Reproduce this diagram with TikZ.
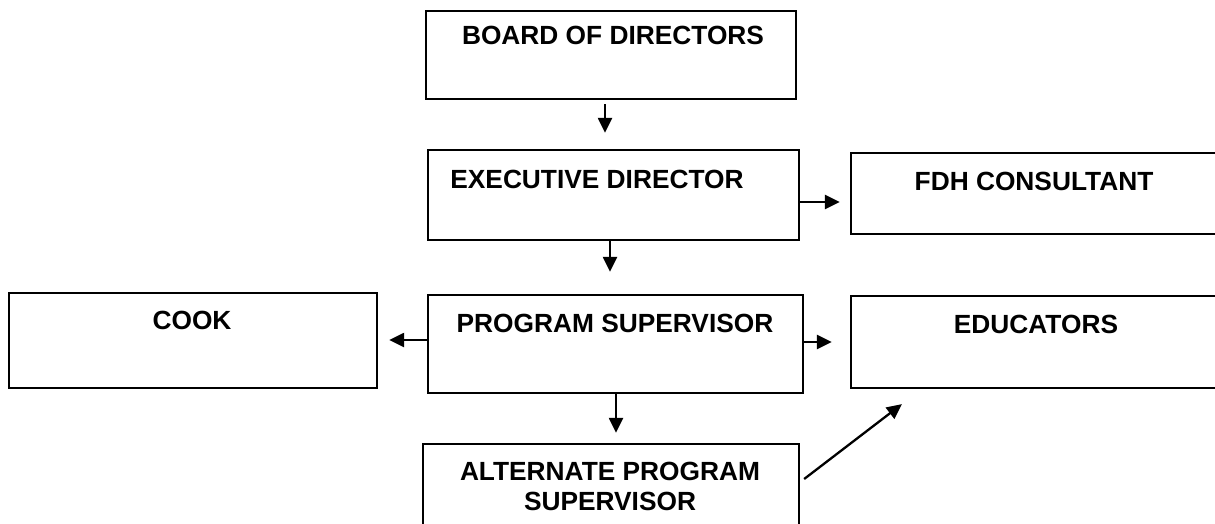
\documentclass[tikz,border=0pt]{standalone}
\usepackage{fontspec}
\setmainfont{Liberation Sans}
\usetikzlibrary{arrows.meta}
\begin{document}
\begin{tikzpicture}[x=1pt,y=-1pt,
  box/.style={draw=black, line width=2.3pt, inner sep=0pt, rectangle},
  lbl/.style={anchor=base, inner sep=0pt, font=\fontsize{26.3}{30}\selectfont\bfseries, align=center},
  arr/.style={line width=2.3pt, -{Triangle[length=15pt,width=14pt]}}]
\useasboundingbox (0,0) rectangle (1215,524);
\clip (0,0) rectangle (1215,524);
% boxes
\node[box, minimum width=370pt, minimum height=88pt] (board) at (611,55) {};
\node[box, minimum width=371pt, minimum height=90pt] (exec) at (613.5,195) {};
\node[box, minimum width=379pt, minimum height=81pt] (fdh) at (1040.5,193.5) {};
\node[box, minimum width=368pt, minimum height=95pt] (cook) at (193,340.5) {};
\node[box, minimum width=375pt, minimum height=98pt] (ps) at (615.5,344) {};
\node[box, minimum width=379pt, minimum height=92pt] (edu) at (1040.5,342) {};
\node[box, minimum width=376pt, minimum height=96pt] (alt) at (611,492) {};
% labels
\node[lbl] (boardt) at (613,45) {BOARD OF DIRECTORS};
\node[lbl] (exect) at (597,188) {EXECUTIVE DIRECTOR};
\node[lbl] (fdht) at (1034,190) {FDH CONSULTANT};
\node[lbl] (cookt) at (192,329) {COOK};
\node[lbl] (pst) at (615,332) {PROGRAM SUPERVISOR};
\node[lbl] (edut) at (1036,333) {EDUCATORS};
\node[lbl] (altt1) at (610,480) {ALTERNATE PROGRAM};
\node[lbl] (altt2) at (610,510) {SUPERVISOR};
% connectors
\draw[arr, shorten <=4pt, shorten >=16pt] ([xshift=-6pt]board.south) -- ([xshift=-6pt]board.south |- exec.north);
\draw[arr, shorten >=10pt] ([yshift=-7pt]exec.east) -- ([yshift=-7pt]exec.east -| fdh.west);
\draw[arr, shorten >=22pt] ([xshift=-3.5pt]exec.south) -- ([xshift=-3.5pt]exec.south |- ps.north);
\draw[arr, shorten >=11pt] ([yshift=4pt]ps.west) -- ([yshift=4pt]ps.west -| cook.east);
\draw[arr, shorten >=18pt] ([yshift=2pt]ps.east) -- ([yshift=2pt]ps.east -| edu.west);
\draw[arr, shorten >=10pt] ([xshift=0.5pt]ps.south) -- ([xshift=0.5pt]ps.south |- alt.north);
\draw[arr] ([xshift=4pt,yshift=13pt]alt.east) -- ([xshift=52pt,yshift=-15pt]edu.south west);
\end{tikzpicture}
\end{document}
